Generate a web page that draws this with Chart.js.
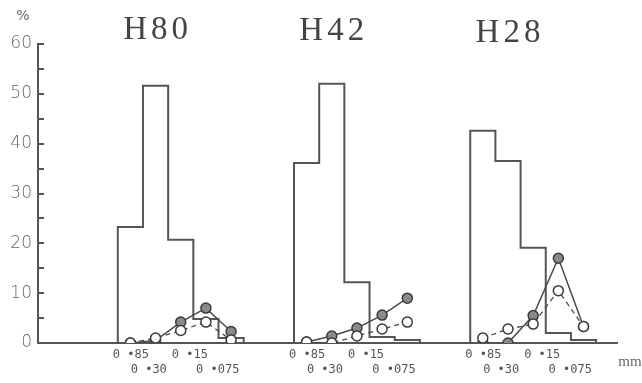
<!DOCTYPE html>
<html>
<head>
<meta charset="utf-8">
<script src="https://cdn.jsdelivr.net/npm/chart.js@4.4.0/dist/chart.umd.min.js"></script>
<style>
  html, body { margin: 0; padding: 0; background: #fff; }
  #wrap { width: 642px; height: 383px; position: relative; }
</style>
</head>
<body>
<div id="wrap"><canvas id="chart"></canvas></div>
<script>
// samples and sieve sizes (mm)
const samples = ["H80", "H42", "H28"];
const sieveLabels = ["0 •85", "0 •30", "0 •15", "0 •075"];

// histogram, % per size fraction
const histH80 = [23.3, 51.6, 20.7, 4.8, 1.0];
const histH42 = [36.1, 52.0, 12.2, 1.2, 0.6];
const histH28 = [42.6, 36.5, 19.1, 2.0, 0.6];

// filled circles, solid line
const solidH80 = [0, 0.5, 4.2, 7.0, 2.3];
const solidH42 = [0.2, 1.4, 3.0, 5.6, 9.0];
const solidH28 = [0, 0, 5.5, 17.0, 3.3];

// open circles, dashed line
const dashH80 = [0, 1.0, 2.5, 4.2, 0.6];
const dashH42 = [0.2, 0, 1.4, 2.8, 4.2];
const dashH28 = [1.0, 2.8, 3.8, 10.5, 3.3];

const hists = [histH80, histH42, histH28];
const solids = [solidH80, solidH42, solidH28];
const dashes = [dashH80, dashH42, dashH28];

// each group is 5 bins of width 1 on the x scale
const groupStart = g => 3.17 + 7 * g;
const labelOffsets = [0.52, 1.23, 2.86, 3.97];

const ink = "#4a4a4a";

function histPoints(vals, g) {
  const x0 = groupStart(g);
  const pts = [{ x: x0, y: 0 }];
  vals.forEach((v, i) => pts.push({ x: x0 + i, y: v }));
  pts.push({ x: x0 + vals.length, y: 0 });
  return pts;
}
function midPoints(vals, g) {
  return vals.map((v, i) => ({ x: groupStart(g) + i + 0.5, y: v }));
}

const datasets = [];
samples.forEach((s, g) => {
  datasets.push({
    label: s + " hist",
    data: histPoints(hists[g], g),
    stepped: "before",
    borderColor: "#555",
    borderWidth: 2,
    pointRadius: 0,
    fill: false,
    order: 3
  });
  datasets.push({
    label: s + " solid",
    data: midPoints(solids[g], g),
    borderColor: ink,
    borderWidth: 1.5,
    pointRadius: 5,
    pointBackgroundColor: "#8a8a8a",
    pointBorderColor: "#3a3a3a",
    pointBorderWidth: 1.5,
    order: 2
  });
  datasets.push({
    label: s + " dash",
    data: midPoints(dashes[g], g),
    borderColor: ink,
    borderWidth: 1.3,
    borderDash: [5, 4],
    pointRadius: 5,
    pointBackgroundColor: "#fff",
    pointBorderColor: "#3a3a3a",
    pointBorderWidth: 1.5,
    order: 1
  });
});

const tickVals = [];
const tickText = [];
samples.forEach((s, g) => {
  labelOffsets.forEach((o, i) => {
    tickVals.push(groupStart(g) + o);
    tickText.push(i % 2 === 0 ? [sieveLabels[i], ""] : ["", sieveLabels[i]]);
  });
});

const textPlugin = {
  id: "texts",
  afterDraw(chart) {
    const ctx = chart.ctx;
    const xs = chart.scales.x;
    const titleY = [30, 31, 33];
    ctx.save();
    ctx.fillStyle = "#444";
    ctx.textAlign = "center";
    ctx.textBaseline = "middle";
    ctx.font = "33px 'Liberation Serif'";
    ctx.letterSpacing = "4px";
    samples.forEach((s, g) => {
      ctx.fillText(s, xs.getPixelForValue(groupStart(g) + 1.5) + 2, titleY[g]);
    });
    ctx.letterSpacing = "0px";
    ctx.font = "14px 'DejaVu Sans'";
    ctx.fillStyle = "#666";
    ctx.fillText("%", 23, 16);
    ctx.font = "15px 'Liberation Serif'";
    ctx.fillText("mm", 630, 362);
    ctx.restore();
  }
};

new Chart(document.getElementById("chart"), {
  type: "line",
  data: { datasets },
  options: {
    responsive: true,
    maintainAspectRatio: false,
    animation: false,
    layout: { padding: { top: 44, right: 25, left: 0, bottom: 0 } },
    plugins: { legend: { display: false }, tooltip: { enabled: false } },
    scales: {
      x: {
        type: "linear",
        min: 0,
        max: 23,
        afterFit: s => { s.height = 40; },
        afterBuildTicks: s => { s.ticks = tickVals.map(v => ({ value: v })); },
        ticks: {
          autoSkip: false,
          maxRotation: 0,
          padding: 5,
          color: "#555",
          font: { family: "DejaVu Sans Mono", size: 12 },
          callback: (v, i) => tickText[i]
        },
        grid: { drawOnChartArea: false, drawTicks: false },
        border: { color: "#555", width: 2 }
      },
      y: {
        min: 0,
        max: 60,
        afterFit: s => { s.width = 38; },
        ticks: {
          stepSize: 5,
          padding: 12,
          color: "#666",
          font: { family: "DejaVu Sans", size: 17, weight: 200 },
          callback: v => (v % 10 === 0 ? String(v) : "")
        },
        grid: { drawOnChartArea: false, tickLength: -6, color: "#555", lineWidth: 2 },
        border: { color: "#555", width: 2 }
      }
    }
  },
  plugins: [textPlugin]
});
</script>
</body>
</html>
